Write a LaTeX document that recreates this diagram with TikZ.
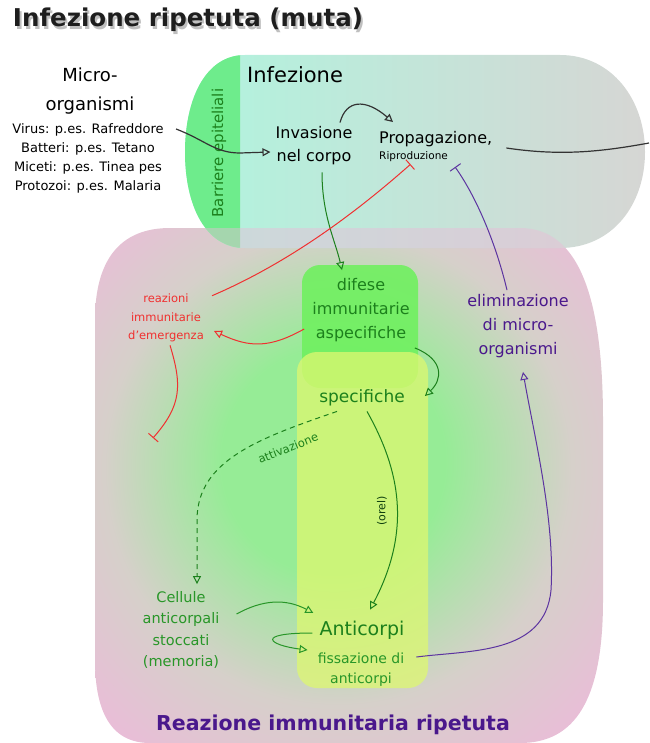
\documentclass[tikz,border=0pt]{standalone}
\usepackage{fontspec}
\setmainfont{DejaVu Sans}
\usetikzlibrary{arrows.meta}

\definecolor{titlegray}{RGB}{30,30,30}
\definecolor{barrgreen}{RGB}{110,236,140}
\definecolor{infteal}{RGB}{176,244,222}
\definecolor{infgray}{RGB}{214,214,212}
\definecolor{immgreen}{RGB}{150,236,150}
\definecolor{immgray}{RGB}{214,208,202}
\definecolor{immpink}{RGB}{234,188,216}
\definecolor{aspgreen}{RGB}{112,240,96}
\definecolor{spyellow}{RGB}{222,248,112}
\definecolor{dkgreen}{RGB}{28,128,28}
\definecolor{ltgreen}{RGB}{40,150,40}
\definecolor{emred}{RGB}{240,48,48}
\definecolor{elpurple}{RGB}{74,24,140}
\definecolor{lnpurple}{RGB}{92,52,160}

\newcommand\fsz[2]{\fontsize{#1}{#2}\selectfont}

\pgfdeclareradialshading{immune}{\pgfpoint{-2bp}{3bp}}{color(0bp)=(immgreen); color(11bp)=(immgreen); color(23bp)=(immgray); color(34bp)=(immpink); color(50bp)=(immpink)}

% contour of the two big areas
\def\infezionepath{(245,55) -- (560,55) .. controls (612,55) and (645,100) .. (645,152) .. controls (645,205) and (612,248) .. (560,248) -- (245,248) .. controls (205,248) and (185,205) .. (185,152) .. controls (185,100) and (205,55) .. (245,55) -- cycle}
\def\immunepath{(170,228) -- (520,228) .. controls (580,228) and (603,300) .. (603,420) -- (603,600) .. controls (603,700) and (575,743) .. (520,743) -- (150,743) .. controls (110,743) and (95,710) .. (95,660) -- (95,320) .. controls (95,260) and (120,228) .. (170,228) -- cycle}

\begin{document}
\begin{tikzpicture}[x=1pt,y=-1pt,
  every node/.style={inner sep=0pt, align=center},
  flow/.style={-{Triangle[open,length=8pt,width=8pt]}, line width=1pt},
  stopbar/.style={-{Bar[width=13pt,line width=1pt]}, line width=1pt},
]
\useasboundingbox (0,0) rectangle (649,743);
% \draw [help lines, step=50] (0,0) grid (649,743);

% areas
\shade[shading=immune] \immunepath;
\shade[left color=infteal, right color=infgray] \infezionepath;
\begin{scope}
  \clip (0,0) rectangle (240,260);
  \fill[barrgreen] \infezionepath;
\end{scope}
\begin{scope}
  \clip \immunepath;
  \fill[immpink, opacity=0.45] \infezionepath;
\end{scope}
\fill[aspgreen, opacity=0.9, rounded corners=18] (302,265) rectangle (418,388);
\fill[spyellow, opacity=0.75, rounded corners=20] (297,352) rectangle (428,688);

% title
\node[text=black, opacity=0.25, font=\fsz{24.5}{28}\bfseries] (titleshadow) at (190,23) {Infezione ripetuta (muta)};
\node[text=titlegray, font=\fsz{24.5}{28}\bfseries] (title) at (188,20) {Infezione ripetuta (muta)};

% infezione
\node[font=\fsz{18}{29}] (micro) at (90,91) {Micro-\\organismi};
\node[font=\fsz{13}{19}] (esempi) at (88,158) {Virus: p.es. Rafreddore\\Batteri: p.es. Tetano\\Miceti: p.es. Tinea pes\\Protozoi: p.es. Malaria};
\node[font=\fsz{21}{24}, anchor=west] (infez) at (247,75) {Infezione};
\node[font=\fsz{15}{17}, text=dkgreen, rotate=90] (barriere) at (219,153) {Barriere epiteliali};
\node[font=\fsz{16}{23}] (invasione) at (314,146) {Invasione\\nel corpo};
\node[font=\fsz{16}{19}, anchor=west] (propag) at (379,139) {Propagazione,};
\node[font=\fsz{10.5}{12}, anchor=west] (ripro) at (379,157) {Riproduzione};
\coordinate (offpage) at (649,143);

% reazione immunitaria
\node[font=\fsz{11.5}{18.5}, text=emred] (reazioni) at (166,318) {reazioni\\immunitarie\\d'emergenza};
\coordinate (redstop) at (153,438);
\node[font=\fsz{16}{24}, text=dkgreen] (difese) at (361,310) {difese\\immunitarie\\aspecifiche};
\node[font=\fsz{17}{20}, text=dkgreen] (specif) at (362,398) {specifiche};
\node[font=\fsz{16}{24}, text=elpurple] (elimin) at (518,326) {eliminazione\\di micro-\\organismi};
\node[font=\fsz{11.5}{13}, text=dkgreen, rotate=22] (attiv) at (288,448) {attivazione};
\node[font=\fsz{11}{13}, text=dkgreen!50!black, rotate=90] (orel) at (382,511) {(orel)};
\node[font=\fsz{14.5}{21.5}, text=ltgreen] (cellule) at (181,630) {Cellule\\anticorpali\\stoccati\\(memoria)};
\node[font=\fsz{19}{22}, text=dkgreen] (anticorpi) at (362,630) {Anticorpi};
\node[font=\fsz{14}{20}, text=ltgreen] (fissaz) at (361,670) {fissazione di\\anticorpi};
\node[font=\fsz{20.5}{24}\bfseries, text=elpurple] (reazione) at (333,725) {Reazione immunitaria ripetuta};

% black arrows
\draw[flow, line width=1.2pt, black!80] (176,129) .. controls (205,140) and (215,153) .. (240,153) -- ([xshift=-5pt,yshift=-6pt]invasione.west);
\draw[flow, line width=1.2pt, black!80] ([xshift=26pt,yshift=4pt]invasione.north) .. controls (346,100) and (365,98) .. ([xshift=14pt,yshift=9pt]propag.north west);
\draw[line width=1.2pt, black!80] ([xshift=14pt,yshift=-9pt]propag.east) .. controls (560,156) and (600,152) .. (offpage);

% green arrows
\draw[flow, dkgreen] ([xshift=8pt,yshift=-7pt]invasione.south) .. controls (322,215) and (335,240) .. ([xshift=-19pt,yshift=8pt]difese.north);
\draw[flow, dkgreen] ([xshift=5pt,yshift=-6pt]difese.south east) .. controls (445,360) and (442,380) .. ([xshift=20pt,yshift=2pt]specif.east);
\draw[flow, dkgreen, dash pattern=on 5pt off 4pt] ([xshift=-25pt,yshift=-5pt]specif.south) .. controls (260,438) and (197,460) .. (197,520) -- ([xshift=16pt,yshift=7pt]cellule.north);
\draw[flow, dkgreen] ([xshift=5pt,yshift=-5pt]specif.south) .. controls (400,470) and (412,530) .. ([xshift=8pt,yshift=11pt]anticorpi.north);
\draw[flow, ltgreen] ([xshift=17pt,yshift=16pt]cellule.east) .. controls (262,600) and (285,598) .. ([xshift=-6pt,yshift=17pt]anticorpi.west);
\draw[flow, ltgreen] ([xshift=-7pt,yshift=-3pt]anticorpi.west) .. controls (255,633) and (268,645) .. ([xshift=-10pt,yshift=3pt]fissaz.north west);

% red
\draw[stopbar, emred] ([xshift=8pt,yshift=-2pt]reazioni.north east) .. controls (300,258) and (370,200) .. ([xshift=-3pt,yshift=-2pt]ripro.south);
\draw[flow, emred] ([xshift=-8pt,yshift=-19pt]difese.west) .. controls (270,348) and (250,348) .. ([xshift=10pt,yshift=-13pt]reazioni.east);
\draw[stopbar, emred] ([xshift=4pt,yshift=-3pt]reazioni.south) .. controls (182,385) and (182,405) .. (redstop);

% purple
\draw[flow, lnpurple] ([xshift=12pt,yshift=13pt]fissaz.east) .. controls (470,650) and (545,655) .. (551,590) .. controls (555,520) and (535,440) .. ([xshift=5pt,yshift=-14pt]elimin.south);
\draw[stopbar, lnpurple] ([xshift=-11pt,yshift=4pt]elimin.north) .. controls (495,240) and (475,195) .. ([xshift=7pt,yshift=-10pt]ripro.east);
\end{tikzpicture}
\end{document}
